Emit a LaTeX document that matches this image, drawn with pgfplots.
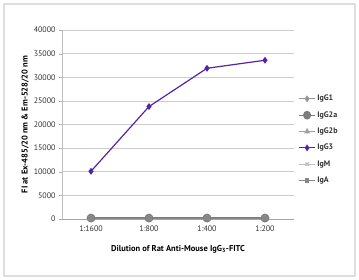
\documentclass[border=0pt]{standalone}
\usepackage{pgfplots}
\pgfplotsset{compat=1.18}
\usepackage{fontspec}
\setmainfont{PT Sans}
\usetikzlibrary{calc}
\definecolor{purp}{RGB}{86,34,168}
\definecolor{g1}{RGB}{150,150,150}
\definecolor{g2}{RGB}{125,125,125}
\definecolor{g3}{RGB}{160,160,160}
\definecolor{g4}{RGB}{190,190,190}
\definecolor{g5}{RGB}{135,135,135}
\definecolor{txt}{RGB}{50,50,50}
\begin{document}
\begin{tikzpicture}
\begin{axis}[name=ax,
  scale only axis, width=232bp, height=189bp,
  xmin=-0.5, xmax=3.5, ymin=0, ymax=40000,
  xtick={0,1,2,3}, xticklabels={1:1600,1:800,1:400,1:200},
  major x tick style={draw=none},
  extra x ticks={-0.5,0.5,1.5,2.5,3.5}, extra x tick labels={},
  extra x tick style={major tick length=3pt, tick style={draw=gray!60}, grid=none},
  ytick={0,5000,...,40000},
  scaled y ticks=false,
  yticklabel style={/pgf/number format/.cd, 1000 sep={}, assume math mode=true},
  tick label style={font=\fontsize{8}{9}\selectfont, text=txt},
  tick align=outside, major tick length=3pt,
  tick style={gray!60},
  ymajorgrids, grid style={gray!40, line width=0.6pt},
  axis x line*=bottom, axis y line*=left,
  x axis line style={gray!70, line width=1pt, -},
  y axis line style={gray!50, -},
  xlabel={\textbf{Dilution of Rat Anti-Mouse IgG\textsubscript{3}-FITC}},
  ylabel={\textbf{FI at Ex-485/20 nm \& Em-528/20 nm}},
  label style={font=\fontsize{8.5}{9.5}\selectfont, text=black},
  xlabel style={yshift=-1pt},
  ylabel style={yshift=-2pt},
  legend style={at={(1.02,0.42)}, anchor=west, draw=none, fill=none,
    font=\fontsize{8}{9}\selectfont\bfseries, row sep=5.2pt, text=txt,
    inner xsep=0pt},
  legend cell align=left,
  legend image post style={xscale=0.9},
]
\addplot[g1, line width=1.2pt, mark=diamond*, mark size=2.5pt] coordinates {(0,150) (1,150) (2,150) (3,150)};
\addlegendentry{IgG1}
\addplot[g2, line width=1.2pt, mark=*, mark size=3.8pt] coordinates {(0,200) (1,200) (2,200) (3,200)};
\addlegendentry{IgG2a}
\addplot[g3, line width=1.2pt, mark=triangle*, mark size=2.5pt] coordinates {(0,150) (1,150) (2,150) (3,150)};
\addlegendentry{IgG2b}
\addplot[purp, line width=1.2pt, mark=diamond*, mark size=2.5pt] coordinates {(0,10100) (1,23800) (2,31900) (3,33600)};
\addlegendentry{IgG3}
\addplot[g4, line width=1.2pt, mark=x, mark size=2.5pt] coordinates {(0,150) (1,150) (2,150) (3,150)};
\addlegendentry{IgM}
\addplot[g5, line width=1.2pt, mark=square*, mark size=2pt] coordinates {(0,150) (1,150) (2,150) (3,150)};
\addlegendentry{IgA}
\end{axis}
\draw[gray!25, line width=1.5pt] ($(ax.south west)+(-58bp,-57bp)$) rectangle ($(ax.south west)+(293bp,215bp)$);
\pgfresetboundingbox
\path[use as bounding box] ($(ax.south west)+(-62bp,-61bp)$) rectangle ($(ax.south west)+(297bp,219bp)$);
\end{tikzpicture}
\end{document}
